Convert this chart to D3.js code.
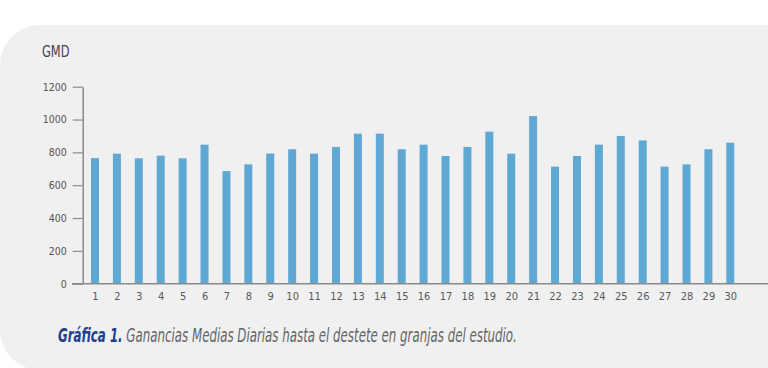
<!DOCTYPE html>
<html>
<head>
<meta charset="utf-8">
<script src="https://cdn.jsdelivr.net/npm/d3@7"></script>
<style>
  html, body { margin: 0; padding: 0; background: #ffffff; }
  svg { display: block; }
  .cond { font-family: "DejaVu Sans Condensed", "DejaVu Sans", sans-serif; font-stretch: condensed; }
</style>
</head>
<body>
<svg id="chart" width="768" height="368"></svg>
<script>
const categories = ["1","2","3","4","5","6","7","8","9","10","11","12","13","14","15","16","17","18","19","20","21","22","23","24","25","26","27","28","29","30"];
const gmd = [765, 792, 764, 780, 764, 847, 686, 727, 793, 819, 792, 833, 914, 914, 819, 847, 778, 833, 926, 792, 1021, 713, 778, 847, 900, 873, 713, 727, 819, 859];
const yTicks = [0, 200, 400, 600, 800, 1000, 1200];
const yLabel = "GMD";
const captionBold = "Gráfica 1.";
const captionRest = " Ganancias Medias Diarias hasta el destete en granjas del estudio.";

const W = 768, H = 368;
const svg = d3.select("#chart");

// panel background with rounded left corners
const px = 0, py = 25, pr = 40, pw = W + 60, ph = H - py + 2;
svg.append("path")
  .attr("d", `M${px+pr},${py} H${pw} V${py+ph} H${px+pr} A${pr},${pr} 0 0 1 ${px},${py+ph-pr} V${py+pr} A${pr},${pr} 0 0 1 ${px+pr},${py} Z`)
  .attr("fill", "#f0f0f0");

const x = d3.scalePoint().domain(categories).range([84.05, 741.25]).padding(0.5);
const y = d3.scaleLinear().domain([0, 1200]).range([283.7, 86.7]);
const barW = 8;

// bars
svg.append("g").selectAll("rect").data(gmd).join("rect")
  .attr("x", (d, i) => x(categories[i]) - barW / 2)
  .attr("y", d => y(d))
  .attr("width", barW)
  .attr("height", d => y(0) - y(d))
  .attr("fill", "#5fa8d3");

// y axis
const yAxis = svg.append("g").attr("transform", "translate(82.7,0)")
  .call(d3.axisLeft(y).tickValues(yTicks).tickFormat(d3.format("d")).tickSize(10).tickSizeOuter(0).tickPadding(6));
yAxis.attr("font-family", null);
yAxis.select(".domain").attr("stroke", "#8a8a8a").attr("stroke-width", 1.5);
yAxis.selectAll(".tick line").attr("stroke", "#8a8a8a").attr("stroke-width", 1.2);
yAxis.selectAll(".tick text").attr("class", "cond").attr("font-size", 10.5).attr("fill", "#555");

// x axis
const xAxis = svg.append("g").attr("transform", `translate(0,${y(0)})`)
  .call(d3.axisBottom(x).tickSize(0).tickPadding(9));
xAxis.attr("font-family", null);
xAxis.select(".domain").remove();
xAxis.selectAll(".tick text").attr("class", "cond").attr("font-size", 11).attr("fill", "#595959");
svg.append("line")
  .attr("x1", 72).attr("x2", W)
  .attr("y1", y(0)).attr("y2", y(0))
  .attr("stroke", "#8a8a8a").attr("stroke-width", 1.5);

// y label
svg.append("text").attr("class", "cond")
  .attr("x", 42).attr("y", 57)
  .attr("font-size", 15).attr("fill", "#444")
  .attr("textLength", 27.5).attr("lengthAdjust", "spacingAndGlyphs")
  .text(yLabel);

// caption: one text element, squeezed horizontally to the reference width
const cap = svg.append("text").attr("class", "cond")
  .attr("x", 0).attr("y", 0)
  .attr("font-size", 19).attr("font-style", "italic");
cap.append("tspan").attr("font-weight", "bold").attr("fill", "#1d3f8e").text(captionBold);
cap.append("tspan").attr("fill", "#666").text(captionRest);
const natural = cap.node().getComputedTextLength();
const sx = 459 / natural;
cap.attr("transform", `translate(58,341.5) scale(${sx},1)`);
</script>
</body>
</html>
